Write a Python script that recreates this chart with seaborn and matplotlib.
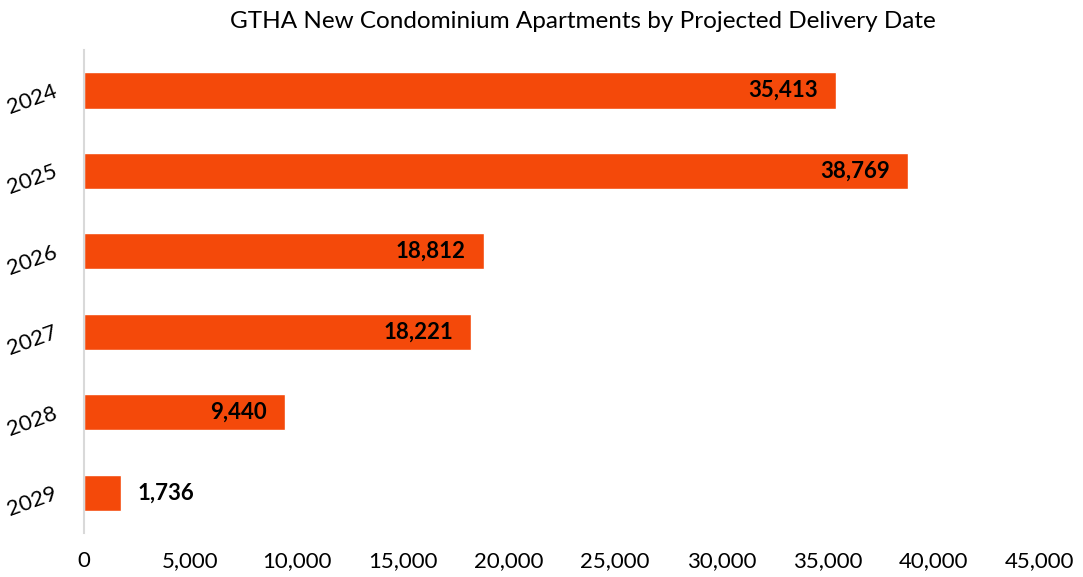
import matplotlib
matplotlib.use("Agg")
import matplotlib.pyplot as plt
import seaborn as sns
import pandas as pd
from matplotlib.ticker import FuncFormatter

years = ["2024", "2025", "2026", "2027", "2028", "2029"]
units = [35413, 38769, 18812, 18221, 9440, 1736]
title = "GTHA New Condominium Apartments by Projected Delivery Date"

df = pd.DataFrame({"year": years, "units": units})

sns.set_theme(style="white")
plt.rcParams["font.family"] = ["Lato", "DejaVu Sans"]

fig = plt.figure(figsize=(10.83, 5.77), dpi=100)
ax = fig.add_axes([0.0776, 0.0763, 0.9603 - 0.0776, 0.913 - 0.0763])

sns.barplot(data=df, x="units", y="year", orient="h", color="#F4490A",
            saturation=1, width=0.45, ax=ax)

ax.set_xlim(0, 45000)
ax.set_xticks(range(0, 45001, 5000))
ax.xaxis.set_major_formatter(FuncFormatter(lambda v, p: f"{int(v):,}"))
ax.set_xlabel("")
ax.set_ylabel("")
for s in ["top", "right", "bottom"]:
    ax.spines[s].set_visible(False)
ax.spines["left"].set_color("#d9d9d9")
ax.spines["left"].set_linewidth(1.5)
ax.tick_params(axis="x", labelsize=16, length=0, pad=13, colors="black")
ax.tick_params(axis="y", labelsize=16, length=0, pad=20, colors="black")
for lbl in ax.get_yticklabels():
    lbl.set_rotation(20)
    lbl.set_ha("right")
    lbl.set_va("center")
    lbl.set_rotation_mode("anchor")

for i, v in enumerate(units):
    if v > 5000:
        ax.annotate(f"{v:,}", xy=(v, i), xytext=(-13, 0), textcoords="offset points",
                    ha="right", va="center", fontsize=16, fontweight="bold", color="black")
    else:
        ax.annotate(f"{v:,}", xy=(v, i), xytext=(12, 0), textcoords="offset points",
                    ha="left", va="center", fontsize=16, fontweight="bold", color="black")

fig.text(583 / 1083, 1 - 21 / 577, title, ha="center", va="center", fontsize=17.5, color="black")

fig.savefig("out.png", dpi=100)
